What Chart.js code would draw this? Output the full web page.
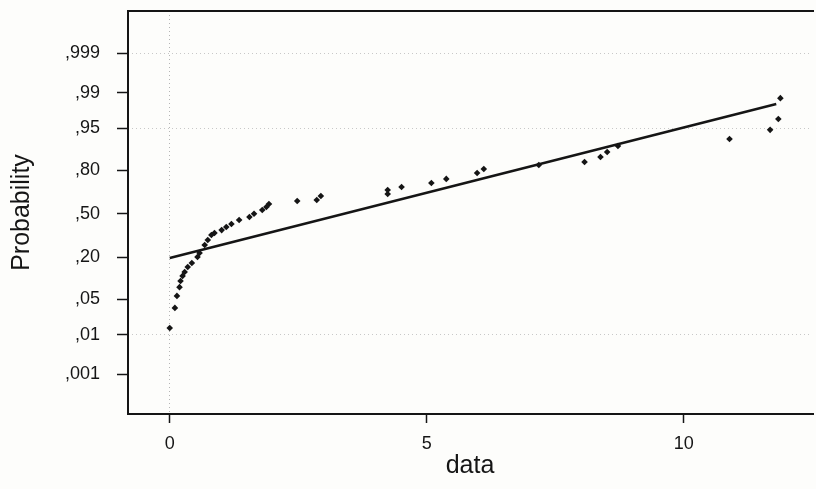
<!DOCTYPE html>
<html>
<head>
<meta charset="utf-8">
<script src="https://cdn.jsdelivr.net/npm/chart.js@4"></script>
<style>
  html, body { margin: 0; padding: 0; background: #fdfdfb; }
</style>
</head>
<body>
<canvas id="chart" width="816" height="489"></canvas>
<script>
// observed values (data) and their cumulative probabilities
const dataX = [0.00, 0.10, 0.14, 0.19, 0.21, 0.25, 0.29, 0.35, 0.43, 0.54,
               0.58, 0.68, 0.74, 0.81, 0.87, 1.01, 1.10, 1.20, 1.35, 1.55,
               1.64, 1.80, 1.88, 1.93, 2.48, 2.86, 2.94, 4.24, 4.24, 4.51,
               5.09, 5.38, 5.98, 6.11, 7.18, 8.07, 8.38, 8.51, 8.72, 10.89,
               11.68, 11.84, 11.88];
const dataP = [0.014, 0.035, 0.057, 0.079, 0.098, 0.116, 0.131, 0.153, 0.172, 0.203,
               0.225, 0.274, 0.307, 0.342, 0.356, 0.377, 0.400, 0.422, 0.453, 0.475,
               0.500, 0.529, 0.552, 0.575, 0.597, 0.605, 0.634, 0.648, 0.677, 0.697,
               0.723, 0.749, 0.784, 0.806, 0.826, 0.841, 0.863, 0.883, 0.904, 0.925,
               0.947, 0.966, 0.987];

// reference (fitted) line
const lineX = [0, 11.8];
const lineP = [0.197, 0.9827];

const tickProbs  = [0.001, 0.01, 0.05, 0.20, 0.50, 0.80, 0.95, 0.99, 0.999];
const tickLabels = [",001", ",01", ",05", ",20", ",50", ",80", ",95", ",99", ",999"];
const xTicks = [0, 5, 10];

// inverse normal cdf (Acklam), used for the probability axis
function probit(p) {
  const a = [-39.69683028665376, 220.9460984245205, -275.9285104469687, 138.3577518672690, -30.66479806614716, 2.506628277459239];
  const b = [-54.47609879822406, 161.5858368580409, -155.6989798598866, 66.80131188771972, -13.28068155288572];
  const c = [-0.007784894002430293, -0.3223964580411365, -2.400758277161838, -2.549732539343734, 4.374664141464968, 2.938163982698783];
  const d = [0.007784695709041462, 0.3224671290700398, 2.445134137142996, 3.754408661907416];
  const lo = 0.02425, hi = 1 - lo;
  let q, r;
  if (p < lo) {
    q = Math.sqrt(-2 * Math.log(p));
    return (((((c[0]*q+c[1])*q+c[2])*q+c[3])*q+c[4])*q+c[5]) / ((((d[0]*q+d[1])*q+d[2])*q+d[3])*q+1);
  }
  if (p > hi) {
    q = Math.sqrt(-2 * Math.log(1 - p));
    return -(((((c[0]*q+c[1])*q+c[2])*q+c[3])*q+c[4])*q+c[5]) / ((((d[0]*q+d[1])*q+d[2])*q+d[3])*q+1);
  }
  q = p - 0.5; r = q * q;
  return (((((a[0]*r+a[1])*r+a[2])*r+a[3])*r+a[4])*r+a[5])*q / (((((b[0]*r+b[1])*r+b[2])*r+b[3])*r+b[4])*r+1);
}

const FONT = "'Liberation Sans', Arial, sans-serif";
const INK = "#151515";

const frame = {
  id: "frame",
  beforeDraw(chart) {
    const ctx = chart.ctx;
    ctx.save();
    ctx.fillStyle = "#fdfdfb";
    ctx.fillRect(0, 0, chart.width, chart.height);
    ctx.restore();
  },
  afterDraw(chart) {
    const { left, right, top, bottom } = chart.chartArea;
    const ctx = chart.ctx;
    ctx.save();
    ctx.strokeStyle = INK;
    ctx.lineWidth = 2;
    ctx.beginPath();
    ctx.moveTo(right + 2, top);
    ctx.lineTo(left, top);
    ctx.lineTo(left, bottom);
    ctx.lineTo(right + 2, bottom);
    ctx.stroke();
    ctx.restore();
  },
};

new Chart(document.getElementById("chart"), {
  type: "scatter",
  data: {
    datasets: [
      {
        label: "data",
        data: dataX.map((x, i) => ({ x: x, y: probit(dataP[i]) })),
        pointStyle: "rectRot",
        pointRadius: 3.3,
        backgroundColor: INK,
        borderWidth: 0,
      },
      {
        label: "fit",
        data: lineX.map((x, i) => ({ x: x, y: probit(lineP[i]) })),
        showLine: true,
        borderColor: INK,
        borderWidth: 2.5,
        pointRadius: 0,
      },
    ],
  },
  options: {
    responsive: false,
    animation: false,
    devicePixelRatio: 1,
    layout: { padding: { top: 11, right: 0, bottom: 0, left: 0 } },
    plugins: { legend: { display: false }, tooltip: { enabled: false } },
    scales: {
      x: {
        type: "linear",
        min: -0.812,
        max: 12.495,
        afterBuildTicks: (s) => { s.ticks = xTicks.map((v) => ({ value: v })); },
        afterFit: (s) => { s.height = 75; s.paddingLeft = 0; s.paddingRight = 0; },
        border: { display: false, dash: [1, 3] },
        grid: {
          color: (c) => (c.tick && c.tick.value === 0 ? "#b5b5b5" : "rgba(0,0,0,0)"),
          tickColor: INK,
          tickBorderDash: [],
          tickLength: 9,
          tickWidth: 1.5,
        },
        ticks: {
          autoSkip: false,
          maxRotation: 0,
          padding: 10,
          color: INK,
          font: { family: FONT, size: 18 },
          callback: (v) => v,
        },
        title: {
          display: true,
          text: "data",
          color: INK,
          font: { family: FONT, size: 25 },
          padding: { top: 0, bottom: 8 },
        },
      },
      y: {
        type: "linear",
        min: -3.854,
        max: 3.904,
        afterBuildTicks: (s) => { s.ticks = tickProbs.map((p) => ({ value: probit(p) })); },
        afterFit: (s) => { s.width = 128; s.paddingTop = 0; s.paddingBottom = 0; },
        border: { display: false, dash: [1, 3] },
        grid: {
          color: (c) => ([0.999, 0.95, 0.01].some((p) => c.tick && Math.abs(c.tick.value - probit(p)) < 1e-6) ? "#c8c8c8" : "rgba(0,0,0,0)"),
          tickColor: INK,
          tickBorderDash: [],
          tickLength: 11,
          tickWidth: 1.5,
        },
        ticks: {
          autoSkip: false,
          padding: 17,
          color: INK,
          font: { family: FONT, size: 18 },
          callback: (v, i) => tickLabels[i],
        },
        title: {
          display: true,
          text: "Probability",
          color: INK,
          font: { family: FONT, size: 25 },
          padding: { top: 7, bottom: 0 },
        },
      },
    },
  },
  plugins: [frame],
});
</script>
</body>
</html>
